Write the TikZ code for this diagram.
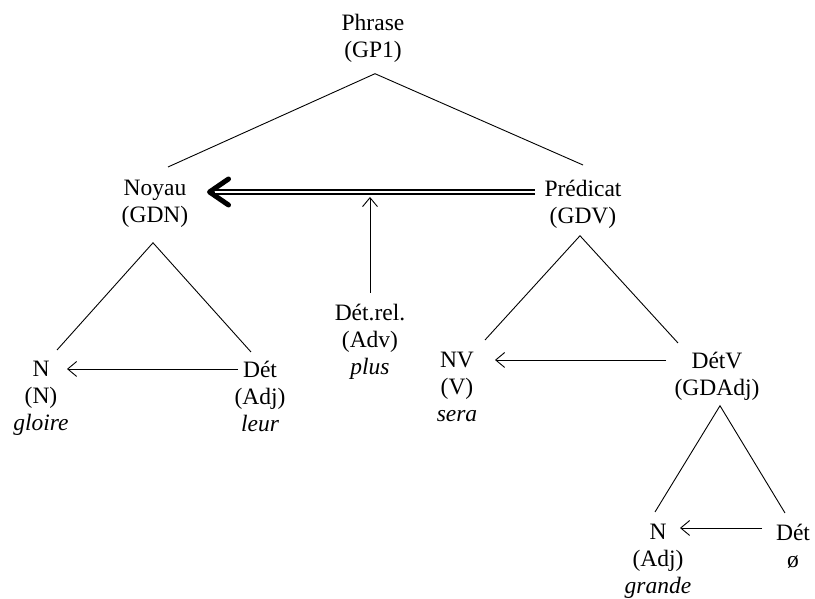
\documentclass[tikz,border=0pt]{standalone}
\usepackage{fontspec}
\setmainfont{Liberation Serif}
\usetikzlibrary{arrows.meta}

\begin{document}
\begin{tikzpicture}[
    x=1pt, y=1pt,
    cat/.style={align=center, inner sep=3pt, anchor=north, font=\fontsize{23.5}{27}\selectfont},
    branch/.style={line width=0.9pt},
    dep/.style={-{Straight Barb[length=9pt,width=15pt]}, line width=0.9pt},
    bigtip/.style={-{Straight Barb[length=19pt,width=26pt,line width=5pt,round]}, line width=0.5pt},
    dbl/.style={double, double distance=2.2pt, line width=1.6pt}
]
\useasboundingbox (0,0) rectangle (815,599);

% Catégories
\node[cat] (phrase) at (373,588) {Phrase\\(GP1)};
\node[cat] (noyau) at (155,422) {Noyau\\(GDN)};
\node[cat] (predicat) at (583,422) {Prédicat\\(GDV)};
\node[cat] (detrel) at (370,298) {Dét.rel.\\(Adv)\\\textit{plus}};
\node[cat] (n1) at (41,241) {N\\(N)\\\textit{gloire}};
\node[cat] (d1) at (260,241) {Dét\\(Adj)\\\textit{leur}};
\node[cat] (nv) at (457,250) {NV\\(V)\\\textit{sera}};
\node[cat] (detv) at (717,250) {DétV\\(GDAdj)};
\node[cat] (n2) at (658,78) {N\\(Adj)\\\textit{grande}};
\node[cat] (d2) at (793,78) {Dét\\ø};

% Branches
\draw[branch] ([shift={(13,10)}]noyau.north) -- ([shift={(2,-8)}]phrase.south) -- ([yshift=12pt]predicat.north);
\draw[branch] ([shift={(16,8)}]n1.north) -- ([shift={(-2,-12)}]noyau.south) -- ([shift={(-9,6)}]d1.north);
\draw[branch] ([shift={(28,9)}]nv.north) -- ([shift={(-3,-4)}]predicat.south) -- ([shift={(-39,6)}]detv.north);
\draw[branch] ([shift={(-3,9)}]n2.north) -- ([shift={(3,-2)}]detv.south) -- ([shift={(-8,8)}]d2.north);

% Relations
\draw[bigtip] ([shift={(-48,-15)}]predicat.north) -- ([shift={(52,-15)}]noyau.north);
\draw[dbl, shorten >=8pt] ([shift={(-48,-15)}]predicat.north) -- ([shift={(52,-15)}]noyau.north);
\draw[dep, shorten <=8pt, shorten >=20pt] (detrel.north) -- (detrel.north |- noyau.north);
\draw[dep] ([shift={(-22,-11)}]d1.north) -- ([shift={(26,-11)}]n1.north);
\draw[dep] ([shift={(-51,-11)}]detv.north) -- ([shift={(38,-11)}]nv.north);
\draw[dep] ([shift={(-31,-7)}]d2.north) -- ([shift={(22,-7)}]n2.north);

\end{tikzpicture}
\end{document}
